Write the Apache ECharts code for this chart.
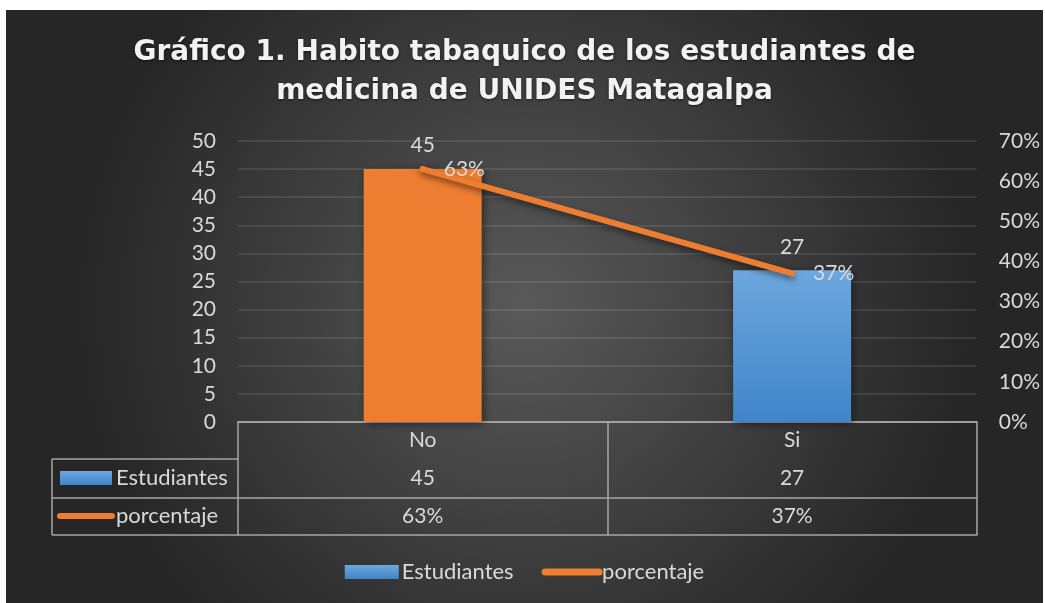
<html>
<head>
<meta charset="utf-8">
<script src="https://cdn.jsdelivr.net/npm/echarts@6/dist/echarts.min.js"></script>
<style>
  body { margin: 0; background: #ffffff; }
  #main { position: absolute; left: 6px; top: 10px; width: 1037px; height: 593px; }
</style>
</head>
<body>
<div id="main"></div>
<script>
// datos del grafico
var categorias = ['No', 'Si'];
var estudiantes = [45, 27];
var porcentaje = [0.63, 0.37];
var ticksIzq = [0, 50, 5];     // min, max, intervalo
var ticksDer = [0, 0.7, 0.1];

var txt = '#d9d9d9';
var fuente = 'Lato';
var tam = 21;
var tamLeyenda = 22;
var lineaTabla = '#a6a6a6';
var pct = function (v) { return Math.round(v * 100) + '%'; };

var azul = {
  type: 'linear', x: 0, y: 0, x2: 0, y2: 1,
  colorStops: [{ offset: 0, color: '#6ea7de' }, { offset: 1, color: '#3f85c9' }]
};

var myChart = echarts.init(document.getElementById('main'));

// ejes x extra para las filas de la tabla de datos
function ejeFila(offset, formatter, margen) {
  return {
    type: 'category', data: categorias, position: 'bottom', offset: offset,
    axisLine: { show: true, lineStyle: { color: lineaTabla, width: 1.5 } },
    axisTick: { show: false },
    axisLabel: {
      show: !!formatter, formatter: formatter, margin: margen,
      color: txt, fontSize: tam, fontFamily: fuente
    }
  };
}

var option = {
  backgroundColor: {
    type: 'radial', x: 0.5, y: 0.5, r: 0.75,
    colorStops: [{ offset: 0, color: '#595959' }, { offset: 1, color: '#262626' }]
  },
  title: {
    text: 'Gráfico 1. Habito tabaquico de los estudiantes de\nmedicina de UNIDES Matagalpa',
    left: 'center', top: 18,
    textStyle: {
      color: '#f2f2f2', fontSize: 28, fontWeight: 'bold', fontFamily: 'DejaVu Sans',
      lineHeight: 39, textShadowColor: 'rgba(0,0,0,0.6)', textShadowBlur: 3, textShadowOffsetY: 1
    }
  },
  legend: {
    bottom: 15, left: 'center', itemGap: 28, itemWidth: 54, itemHeight: 14,
    textStyle: { color: txt, fontSize: tamLeyenda, fontFamily: fuente, padding: [0, 0, 0, -2] },
    data: [
      { name: 'Estudiantes', icon: 'rect' },
      { name: 'porcentaje', lineStyle: { width: 7, cap: 'round' }, itemStyle: { opacity: 0 } }
    ]
  },
  grid: { left: 232, right: 65, top: 131, bottom: 181 },
  xAxis: [
    {
      type: 'category', data: categorias,
      axisLine: { show: true, lineStyle: { color: lineaTabla, width: 1.5 } },
      axisTick: { show: true, length: 113, interval: 0, lineStyle: { color: lineaTabla, width: 1.5 } },
      axisLabel: { color: txt, fontSize: tam, fontFamily: fuente, margin: 8 }
    },
    ejeFila(37, function (v, i) { return estudiantes[i]; }, 9),
    ejeFila(76, function (v, i) { return pct(porcentaje[i]); }, 8),
    ejeFila(113, null, 0)
  ],
  yAxis: [
    {
      type: 'value', min: ticksIzq[0], max: ticksIzq[1], interval: ticksIzq[2],
      axisLine: { show: false }, axisTick: { show: false },
      axisLabel: { color: txt, fontSize: tam, fontFamily: fuente, margin: 22 },
      splitLine: { lineStyle: { color: 'rgba(255,255,255,0.13)', width: 1.5 } }
    },
    {
      type: 'value', min: ticksDer[0], max: ticksDer[1], interval: ticksDer[2],
      axisLine: { show: false }, axisTick: { show: false },
      axisLabel: { color: txt, fontSize: tam, fontFamily: fuente, margin: 22, formatter: pct },
      splitLine: { show: false }
    }
  ],
  series: [
    {
      name: 'Estudiantes', type: 'bar', barWidth: 118,
      data: estudiantes.map(function (v, i) {
        return i === 0 ? { value: v, itemStyle: { color: '#ed7d31' } } : v;
      }),
      itemStyle: {
        color: azul, shadowColor: 'rgba(0,0,0,0.45)', shadowBlur: 8, shadowOffsetX: 2, shadowOffsetY: 2
      },
      label: { show: true, position: 'top', distance: 13, color: txt, fontSize: tam, fontFamily: fuente }
    },
    {
      name: 'porcentaje', type: 'line', yAxisIndex: 1, data: porcentaje,
      symbol: 'circle', symbolSize: 6,
      itemStyle: { color: '#ed7d31' },
      lineStyle: {
        color: '#ed7d31', width: 6, cap: 'round',
        shadowColor: 'rgba(0,0,0,0.5)', shadowBlur: 6, shadowOffsetY: 3
      },
      label: {
        show: true, position: 'right', distance: 18, color: txt, fontSize: tam, fontFamily: fuente,
        formatter: function (p) { return pct(p.value); }
      },
      z: 5
    }
  ],
  // marco izquierdo de la tabla y claves de leyenda en la tabla
  graphic: [
    { type: 'line', shape: { x1: 46, y1: 449, x2: 232, y2: 449 }, style: { stroke: lineaTabla, lineWidth: 1.5 } },
    { type: 'line', shape: { x1: 46, y1: 488, x2: 232, y2: 488 }, style: { stroke: lineaTabla, lineWidth: 1.5 } },
    { type: 'line', shape: { x1: 46, y1: 525, x2: 232, y2: 525 }, style: { stroke: lineaTabla, lineWidth: 1.5 } },
    { type: 'line', shape: { x1: 46, y1: 449, x2: 46, y2: 525 }, style: { stroke: lineaTabla, lineWidth: 1.5 } },
    { type: 'rect', shape: { x: 54, y: 461, width: 52, height: 14 }, style: { fill: azul } },
    { type: 'text', x: 110, y: 468, style: { text: 'Estudiantes', fill: txt, font: tamLeyenda + 'px Lato', verticalAlign: 'middle' } },
    { type: 'line', shape: { x1: 54, y1: 506, x2: 106, y2: 506 }, style: { stroke: '#ed7d31', lineWidth: 6, lineCap: 'round' } },
    { type: 'text', x: 110, y: 506, style: { text: 'porcentaje', fill: txt, font: tamLeyenda + 'px Lato', verticalAlign: 'middle' } }
  ]
};

myChart.setOption(option);
</script>
</body>
</html>
